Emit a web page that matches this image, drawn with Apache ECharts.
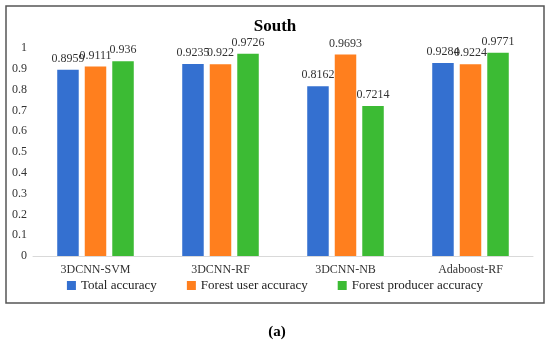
<!DOCTYPE html>
<html><head><meta charset="utf-8">
<script src="https://cdn.jsdelivr.net/npm/echarts@6/dist/echarts.min.js"></script>
<style>html,body{margin:0;padding:0;background:#fff}#c{width:550px;height:348px}</style>
</head><body><div id="c"></div>
<script>
const categories = ['3DCNN-SVM', '3DCNN-RF', '3DCNN-NB', 'Adaboost-RF'];
const seriesNames = ['Total accuracy', 'Forest user accuracy', 'Forest producer accuracy'];
const totalAccuracy = [0.8959, 0.9235, 0.8162, 0.9284];
const userAccuracy = [0.9111, 0.922, 0.9693, 0.9224];
const producerAccuracy = [0.936, 0.9726, 0.7214, 0.9771];
const yTicks = [0, 0.1, 0.2, 0.3, 0.4, 0.5, 0.6, 0.7, 0.8, 0.9, 1];

const colors = ['#3470D0', '#FF7F1E', '#3CBB34'];
const font = '"Liberation Serif", "DejaVu Serif", serif';
const chart = echarts.init(document.getElementById('c'));
const mk = (name, data, color) => ({
  name, type: 'bar', data, barWidth: 21.5, barGap: '28%',
  itemStyle: { color },
  label: { show: true, position: 'top', distance: 5, fontFamily: font, fontSize: 12, color: '#333',
    formatter: p => String(p.value) }
});
chart.setOption({
  animation: false,
  title: { text: 'South', left: 'center', top: 13, textStyle: { fontFamily: font, fontSize: 17, fontWeight: 'bold', color: '#000' } },
  legend: {
    data: seriesNames, bottom: 51, left: 'center', itemWidth: 9, itemHeight: 9, itemGap: 30,
    icon: 'rect', textStyle: { fontFamily: font, fontSize: 13, color: '#222' }
  },
  grid: { left: 33, right: 17, top: 48, bottom: 92 },
  xAxis: {
    type: 'category', data: categories,
    axisLine: { lineStyle: { color: '#d9d9d9' } }, axisTick: { show: false },
    axisLabel: { fontFamily: font, fontSize: 12, color: '#333', margin: 8 }
  },
  yAxis: {
    type: 'value', min: 0, max: 1, interval: 0.1,
    splitLine: { show: false }, axisLine: { show: false }, axisTick: { show: false },
    axisLabel: { fontFamily: font, fontSize: 12, color: '#333', margin: 6,
      formatter: v => yTicks.includes(Math.round(v*10)/10) ? String(Math.round(v*10)/10) : '' }
  },
  graphic: [
    { type: 'rect', shape: { x: 6, y: 6, width: 538, height: 297 }, style: { fill: 'none', stroke: '#555', lineWidth: 1.5 }, z: -1 },
    { type: 'text', x: 277, y: 332, style: { text: '(a)', fontFamily: font, fontSize: 15, fontWeight: 'bold', fill: '#000', align: 'center', verticalAlign: 'middle' } }
  ],
  series: [mk(seriesNames[0], totalAccuracy, colors[0]), mk(seriesNames[1], userAccuracy, colors[1]), mk(seriesNames[2], producerAccuracy, colors[2])]
});
</script></body></html>
